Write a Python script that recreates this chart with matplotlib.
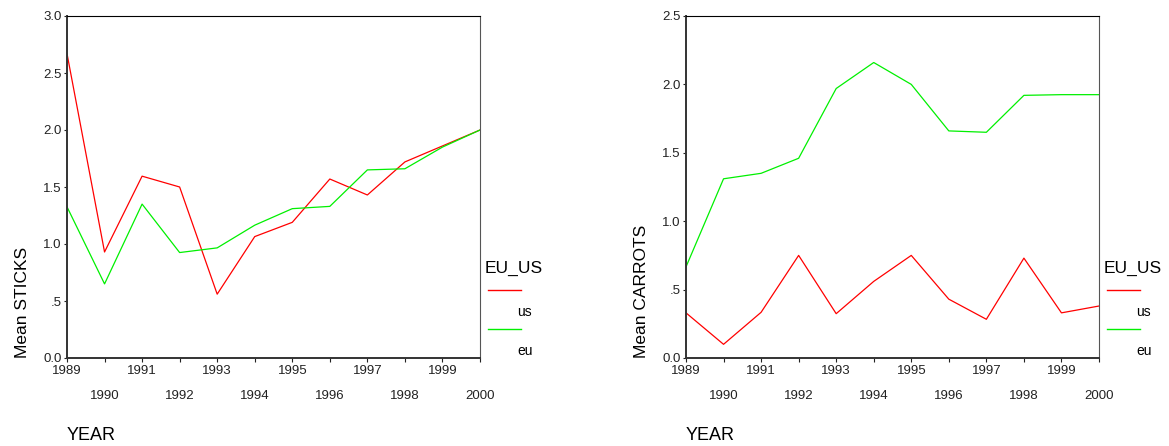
import matplotlib.pyplot as plt
from matplotlib.lines import Line2D

plt.rcParams['font.family'] = ['Liberation Sans', 'DejaVu Sans']

years = list(range(1989, 2001))

sticks_us = [2.67, 0.93, 1.595, 1.50, 0.56, 1.065, 1.19, 1.57, 1.43, 1.72, 1.86, 2.0]
sticks_eu = [1.326, 0.65, 1.35, 0.925, 0.966, 1.165, 1.31, 1.33, 1.65, 1.66, 1.85, 2.0]

carrots_us = [0.33, 0.10, 0.334, 0.75, 0.324, 0.56, 0.75, 0.43, 0.283, 0.73, 0.33, 0.38]
carrots_eu = [0.666, 1.31, 1.35, 1.46, 1.97, 2.16, 2.0, 1.66, 1.65, 1.92, 1.925, 1.925]

sticks_ticks = [0, 0.5, 1.0, 1.5, 2.0, 2.5, 3.0]
sticks_ticklabels = ['0.0', '.5', '1.0', '1.5', '2.0', '2.5', '3.0']
carrots_ticks = [0, 0.5, 1.0, 1.5, 2.0, 2.5]
carrots_ticklabels = ['0.0', '.5', '1.0', '1.5', '2.0', '2.5']

red = '#ff0000'
green = '#00f000'

fig = plt.figure(figsize=(11.69, 4.46), dpi=100)
W, H = 1169, 446

def panel(left_px, us, eu, yticks, yticklabels, ylabel, legend_x):
    ax = fig.add_axes([left_px / W, (H - 358) / H, 413 / W, 342 / H])
    ax.plot(years, us, color=red, lw=0.9)
    ax.plot(years, eu, color=green, lw=0.9)
    ax.set_xlim(1989, 2000)
    ax.set_ylim(yticks[0], yticks[-1])
    ax.set_yticks(yticks)
    ax.set_yticklabels(yticklabels)
    ax.set_xticks(years)
    ax.set_xticklabels([str(y) if y % 2 == 1 else '\n' + str(y) for y in years])
    for lab in ax.get_xticklabels():
        lab.set_linespacing(2.4)
    ax.tick_params(axis='both', labelsize=9.5, length=3, width=0.8, colors='#222222')
    ax.tick_params(axis='x', pad=2)
    ax.tick_params(axis='y', length=2, pad=2)
    for s in ['left', 'bottom']:
        ax.spines[s].set_linewidth(1.4)
        ax.spines[s].set_color('#333333')
    ax.spines['top'].set_linewidth(0.8)
    ax.spines['right'].set_linewidth(0.8)
    ax.spines['right'].set_color('#555555')
    ax.set_ylabel(ylabel, fontsize=12.5, loc='bottom', labelpad=9)
    fig.text(left_px / W, 1 - 435 / H, 'YEAR', fontsize=13, ha='left', va='center')
    # legend drawn by hand
    fig.text(legend_x / W, 1 - 268 / H, 'EU_US', fontsize=12.5, ha='left', va='center')
    for i, (c, name) in enumerate([(red, 'us'), (green, 'eu')]):
        y_line = 290 + 39 * i
        fig.add_artist(Line2D([(legend_x + 3) / W, (legend_x + 36) / W],
                              [1 - y_line / H, 1 - y_line / H], color=c, lw=1.0))
        fig.text((legend_x + 32) / W, 1 - (y_line + 22) / H, name, fontsize=10,
                 ha='left', va='center')
    return ax

panel(67, sticks_us, sticks_eu, sticks_ticks, sticks_ticklabels, 'Mean STICKS', 485)
panel(686, carrots_us, carrots_eu, carrots_ticks, carrots_ticklabels, 'Mean CARROTS', 1104)

plt.savefig('out.png', dpi=100)
